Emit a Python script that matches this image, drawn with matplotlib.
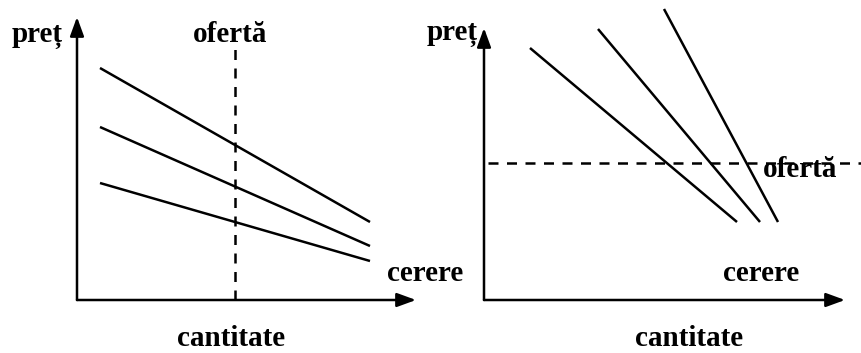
import matplotlib
matplotlib.use("Agg")
import matplotlib.pyplot as plt

plt.rcParams["font.family"] = ["Liberation Serif", "DejaVu Serif"]
plt.rcParams["font.weight"] = "bold"

# left panel: fixed supply (vertical), three demand curves
left_demand_q = [[2.3, 29.3], [2.3, 29.3], [2.3, 29.3]]
left_demand_p = [[23.2, 7.8], [17.3, 5.4], [11.7, 3.9]]
left_supply_q = 15.8
left_supply_p = [0.0, 25.1]

# right panel: fixed price (horizontal), three demand curves
right_demand_q = [[4.6, 25.3], [11.4, 27.6], [18.0, 29.4]]
right_demand_p = [[25.2, 7.8], [27.1, 7.8], [29.1, 7.8]]
right_supply_p = 13.7
right_supply_q = [0.4, 40.0]

LW = 1.8
DASH = (0, (4.0, 3.4))
FS = 21
ARROW = "-|>,head_length=1.15,head_width=0.42"


def draw_axes(ax, xtip, ytip):
    for tip in [(xtip, 0), (0, ytip)]:
        ax.annotate("", xy=tip, xytext=(0, 0),
                    arrowprops=dict(arrowstyle=ARROW, mutation_scale=10, lw=LW,
                                    color="black", shrinkA=0, shrinkB=0))


fig = plt.figure(figsize=(8.62, 3.53), dpi=100)
ax1 = fig.add_axes([0, 0, 0.5, 1])
ax2 = fig.add_axes([0.5, 0, 0.5, 1])

# 1 unit = 10 px
ax1.set_xlim(-7.7, 35.4)
ax1.set_ylim(-5.3, 30.0)
ax2.set_xlim(-5.3, 37.8)
ax2.set_ylim(-5.3, 30.0)

txt = dict(fontsize=FS, fontweight="bold", va="baseline")

# left
draw_axes(ax1, 33.9, 28.3)
for q, p in zip(left_demand_q, left_demand_p):
    ax1.plot(q, p, color="black", lw=LW, solid_capstyle="butt")
ax1.plot([left_supply_q, left_supply_q], left_supply_p, color="black",
         lw=LW, linestyle=DASH)
ax1.text(-1.4, 25.8, "preț", ha="right", **txt)
ax1.text(15.3, 25.8, "ofertă", ha="center", **txt)
ax1.text(31.0, 1.9, "cerere", ha="left", **txt)
ax1.text(15.4, -4.6, "cantitate", ha="center", **txt)

# right
draw_axes(ax2, 36.1, 27.2)
for q, p in zip(right_demand_q, right_demand_p):
    ax2.plot(q, p, color="black", lw=LW, solid_capstyle="butt")
ax2.plot(right_supply_q, [right_supply_p, right_supply_p], color="black",
         lw=LW, linestyle=DASH)
ax2.text(-0.6, 26.0, "preț", ha="right", **txt)
ax2.text(27.9, 12.3, "ofertă", ha="left", **txt)
ax2.text(23.9, 1.9, "cerere", ha="left", **txt)
ax2.text(20.5, -4.6, "cantitate", ha="center", **txt)

for ax in (ax1, ax2):
    ax.axis("off")

fig.savefig("out.png", dpi=100)
